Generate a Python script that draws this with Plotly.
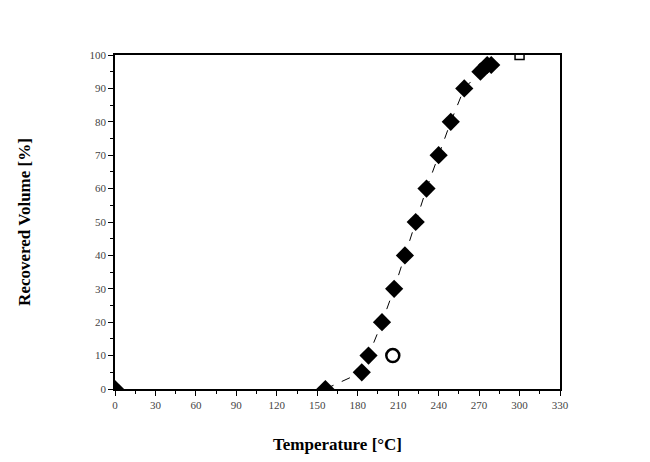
import plotly.graph_objects as go

temp = [0, 156, 183, 188, 198, 207, 215, 223, 231, 240, 249, 259, 271, 276, 279]
vol = [0, 0, 5, 10, 20, 30, 40, 50, 60, 70, 80, 90, 95, 97, 97]
end_temp = [300]
end_vol = [100]
odd_temp = [206]
odd_vol = [10]

fig = go.Figure()
fig.add_trace(go.Scatter(x=temp[1:], y=vol[1:], mode='lines',
                         line=dict(color='black', width=1, dash='dash')))
fig.add_trace(go.Scatter(x=temp, y=vol, mode='markers',
                         marker=dict(symbol='diamond', size=14, color='black')))
fig.add_trace(go.Scatter(x=end_temp, y=end_vol, mode='markers', cliponaxis=True,
                         marker=dict(symbol='square', size=9, color='white',
                                     line=dict(color='black', width=1.5))))
fig.add_trace(go.Scatter(x=odd_temp, y=odd_vol, mode='markers',
                         marker=dict(symbol='circle', size=13, color='white',
                                     line=dict(color='black', width=2.5))))

axis_common = dict(showgrid=False, zeroline=False, showline=True, linecolor='black',
                   linewidth=1.5, mirror=True, ticks='outside', ticklen=5,
                   tickcolor='black', tickfont=dict(family='Liberation Serif', size=11,
                                                    color='#444'))
fig.update_xaxes(range=[0, 330], tickvals=list(range(0, 331, 30)),
                 minor=dict(ticks='outside', ticklen=3, dtick=15, tickcolor='black'),
                 title=dict(text='<b>Temperature [°C]</b>', standoff=28,
                            font=dict(family='Liberation Serif', size=17, color='black')),
                 **axis_common)
fig.update_yaxes(range=[0, 100], tickvals=list(range(0, 101, 10)),
                 minor=dict(ticks='outside', ticklen=3, dtick=5, tickcolor='black'),
                 title=dict(text='<b>Recovered Volume [%]</b>', standoff=55,
                            font=dict(family='Liberation Serif', size=17, color='black')),
                 **axis_common)
fig.update_layout(width=650, height=462, showlegend=False,
                  plot_bgcolor='white', paper_bgcolor='white',
                  margin=dict(l=107, r=98, t=47, b=81, autoexpand=False))
fig.write_html("out.html")
